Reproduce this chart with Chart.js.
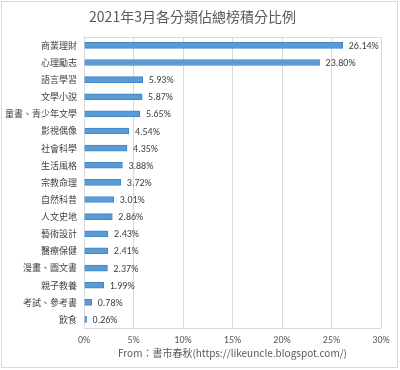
<!DOCTYPE html>
<html>
<head>
<meta charset="utf-8">
<script src="https://cdn.jsdelivr.net/npm/chart.js@4"></script>
<style>
  html, body { margin: 0; padding: 0; background: #ffffff; }
  #wrap { width: 400px; height: 370px; position: relative; }
</style>
</head>
<body>
<div id="wrap"><canvas id="chart" width="400" height="370"></canvas></div>
<script>
const categories = [
    '商業理財', '心理勵志', '語言學習', '文學小說', '童書、青少年文學',
    '影視偶像', '社會科學', '生活風格', '宗教命理', '自然科普',
    '人文史地', '藝術設計', '醫療保健', '漫畫、圖文書', '親子教養',
    '考試、參考書', '飲食'
];
const shares = [
    26.14, 23.80, 5.93, 5.87, 5.65,
    4.54, 4.35, 3.88, 3.72, 3.01,
    2.86, 2.43, 2.41, 2.37, 1.99,
    0.78, 0.26
];
const xTicks = [0, 5, 10, 15, 20, 25, 30];

const textColor = '#595959';
const cjkFont = "'Noto Sans CJK TC', 'Noto Sans CJK SC', sans-serif";
const latinFont = "Calibri, 'Liberation Sans', 'Open Sans', sans-serif";

// value labels at the end of each bar + outer frame
const extras = {
    id: 'extras',
    beforeDraw(chart) {
        const c = chart.ctx;
        c.save();
        c.strokeStyle = '#d9d9d9';
        c.lineWidth = 1;
        c.strokeRect(1.5, 1.5, 396, 366);
        c.restore();
    },
    afterDatasetsDraw(chart) {
        const c = chart.ctx;
        const meta = chart.getDatasetMeta(0);
        c.save();
        c.font = "10px " + latinFont;
        c.fillStyle = '#404040';
        c.textBaseline = 'middle';
        c.textAlign = 'left';
        meta.data.forEach((bar, i) => {
            c.fillText(shares[i].toFixed(2) + '%', bar.x + 6, bar.y + 1);
        });
        c.restore();
    }
};

new Chart(document.getElementById('chart').getContext('2d'), {
    type: 'bar',
    data: {
        labels: categories,
        datasets: [{
            data: shares,
            backgroundColor: '#5b9bd5',
            borderColor: '#3f86c8',
            borderWidth: 1,
            barThickness: 6
        }]
    },
    options: {
        indexAxis: 'y',
        responsive: false,
        animation: false,
        layout: { padding: { top: 0, left: 4, right: 19, bottom: 0 } },
        plugins: {
            legend: { display: false },
            tooltip: { enabled: false },
            title: {
                display: true,
                text: '2021年3月各分類佔總榜積分比例',
                color: textColor,
                font: { size: 14, weight: 'normal', family: cjkFont },
                padding: { top: 8, bottom: 12 }
            }
        },
        scales: {
            x: {
                min: 0,
                max: 30,
                afterBuildTicks(scale) {
                    scale.ticks = xTicks.map(v => ({ value: v }));
                },
                grid: { color: '#d9d9d9', drawTicks: false },
                border: { display: false },
                ticks: {
                    color: textColor,
                    padding: 6,
                    font: { size: 10, family: latinFont },
                    callback: v => v + '%'
                },
                title: {
                    display: true,
                    text: 'From：書市春秋(https://likeuncle.blogspot.com/)',
                    color: textColor,
                    font: { size: 10, family: cjkFont },
                    padding: { top: 0, bottom: 11 }
                },
                afterFit(scale) { scale.height = 42; }
            },
            y: {
                grid: { display: false, drawTicks: false },
                border: { display: true, color: '#d9d9d9' },
                ticks: {
                    color: '#404040',
                    padding: 7,
                    font: { size: 9, family: cjkFont }
                },
                afterFit(scale) { scale.width = 80; }
            }
        }
    },
    plugins: [extras, {
        id: 'plotFrame',
        beforeDatasetsDraw(chart) {
            const a = chart.chartArea;
            const c = chart.ctx;
            c.save();
            c.strokeStyle = '#d9d9d9';
            c.lineWidth = 1;
            c.beginPath();
            c.moveTo(a.left, Math.round(a.top) + 0.5);
            c.lineTo(a.right, Math.round(a.top) + 0.5);
            c.moveTo(a.left, Math.round(a.bottom) + 0.5);
            c.lineTo(a.right, Math.round(a.bottom) + 0.5);
            c.stroke();
            c.restore();
        }
    }]
});
</script>
</body>
</html>
